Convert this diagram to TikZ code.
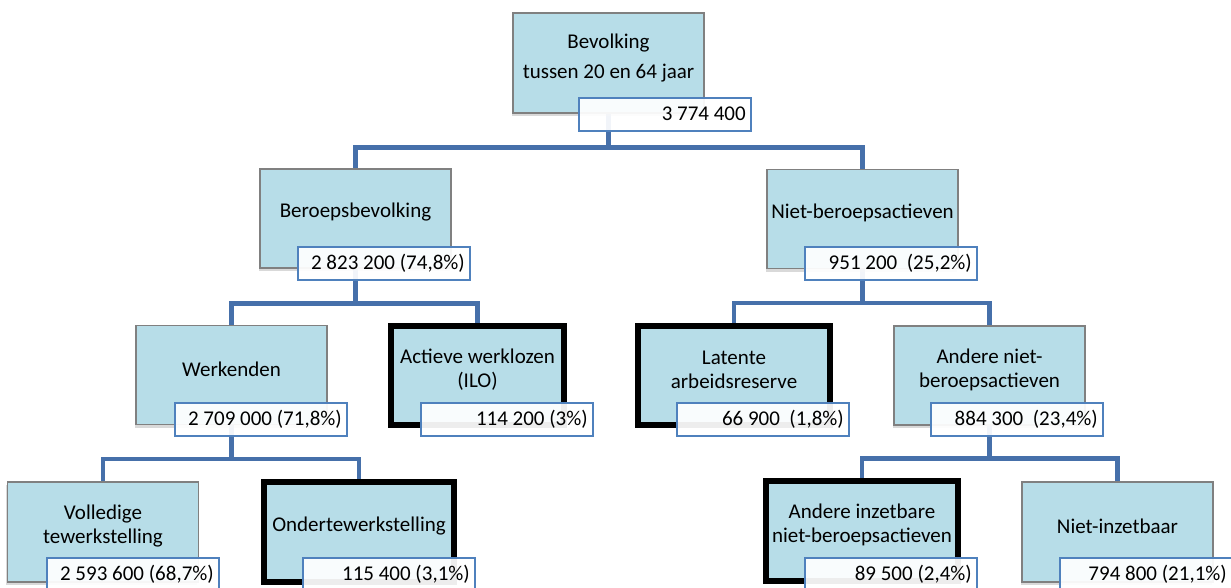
\documentclass[tikz,border=0pt]{standalone}
\usepackage{fontspec}
\setmainfont{Carlito}
\usetikzlibrary{positioning,shadows,backgrounds}

\definecolor{boxfill}{RGB}{183,221,232}
\definecolor{boxline}{RGB}{128,128,128}
\definecolor{valline}{RGB}{79,129,189}
\definecolor{linkblue}{RGB}{70,112,170}

\tikzset{
  box/.style={draw=boxline, line width=1.2pt, fill=boxfill, minimum width=191pt, minimum height=99pt, inner sep=0pt,
    drop shadow={shadow xshift=-1.5pt, shadow yshift=-3pt, opacity=0.3}},
  keybox/.style={box, draw=black, line width=6pt},
  boxtext/.style={font=\fontsize{21}{24}\selectfont, align=center, yshift=6pt, inner sep=0pt},
  valbox/.style={draw=valline, line width=1.5pt, fill=white, fill opacity=0.93, text opacity=1, anchor=north west,
    minimum height=33pt, text width=162pt, inner xsep=5pt, inner ysep=0pt, align=flush right, font=\fontsize{21}{24}\selectfont},
  link/.style={draw=linkblue, line width=4.5pt}
}

\begin{document}
\begin{tikzpicture}[x=1pt,y=-1pt]
  \useasboundingbox (0,0) rectangle (1231,587);

  % boxes
  \node[box, minimum height=100pt, label={[boxtext,yshift=-1pt]center:{Bevolking\\[6pt]tussen 20 en 64 jaar}}] (bev) at (608.5,63) {};
  \node[box, label={[boxtext]center:Beroepsbevolking}] (berb) at (355.5,218.5) {};
  \node[box, label={[boxtext]center:Niet-beroepsactieven}] (niet) at (862.5,219) {};
  \node[box, label={[boxtext]center:Werkenden}] (werk) at (231.5,375) {};
  \node[keybox, minimum width=173pt, label={[boxtext]center:{Actieve werklozen\\(ILO)}}] (werkl) at (477.5,375.5) {};
  \node[keybox, minimum width=192pt, label={[boxtext]center:{Latente\\arbeidsreserve}}] (lat) at (734,375.5) {};
  \node[box, label={[boxtext]center:{Andere niet-\\beroepsactieven}}] (andn) at (989.5,375.5) {};
  \node[box, minimum height=100pt, label={[boxtext]center:{Volledige\\tewerkstelling}}] (voll) at (103,532) {};
  \node[keybox, minimum width=190pt, minimum height=100pt, label={[boxtext]center:Ondertewerkstelling}] (onder) at (359,532) {};
  \node[keybox, minimum width=192pt, minimum height=100pt, label={[boxtext]center:{Andere inzetbare\\niet-beroepsactieven}}] (inz) at (862,531) {};
  \node[box, minimum height=100pt, label={[boxtext]center:Niet-inzetbaar}] (ninz) at (1117.5,532) {};

  % values
  \node[valbox] (bevV) at (578,97) {3 774 400};
  \node[valbox] (berbV) at (297,246) {2 823 200 (74,8\%)};
  \node[valbox] (nietV) at (804,246) {951 200~ (25,2\%)};
  \node[valbox] (werkV) at (174,402) {2 709 000 (71,8\%)};
  \node[valbox] (werklV) at (420,402) {114 200 (3\%)};
  \node[valbox] (latV) at (676,402) {66 900~ (1,8\%)};
  \node[valbox] (andnV) at (930,402) {884 300~ (23,4\%)};
  \node[valbox] (vollV) at (46,557) {2 593 600 (68,7\%)};
  \node[valbox] (onderV) at (302,557) {115 400 (3,1\%)};
  \node[valbox] (inzV) at (804,557) {89 500 (2,4\%)};
  \node[valbox] (ninzV) at (1059,557) {794 800 (21,1\%)};

  % connectors
  \begin{scope}[on background layer]
    \draw[link] (bev.south) -- ++(0,34) -| (berb.north);
    \draw[link] (bev.south) -- ++(0,34) -| (niet.north);
    \draw[link] (berb.south) -- ++(0,35) -| (werk.north);
    \draw[link] (berb.south) -- ++(0,35) -| (werkl.north);
    \draw[link] (niet.south) -- ++(0,34) -| (lat.north);
    \draw[link] (niet.south) -- ++(0,34) -| (andn.north);
    \draw[link] (werk.south) -- ++(0,34) -| (voll.north);
    \draw[link] (werk.south) -- ++(0,34) -| (onder.north);
    \draw[link] (andn.south) -- ++(0,33) -| (inz.north);
    \draw[link] (andn.south) -- ++(0,33) -| (ninz.north);
  \end{scope}
\end{tikzpicture}
\end{document}
